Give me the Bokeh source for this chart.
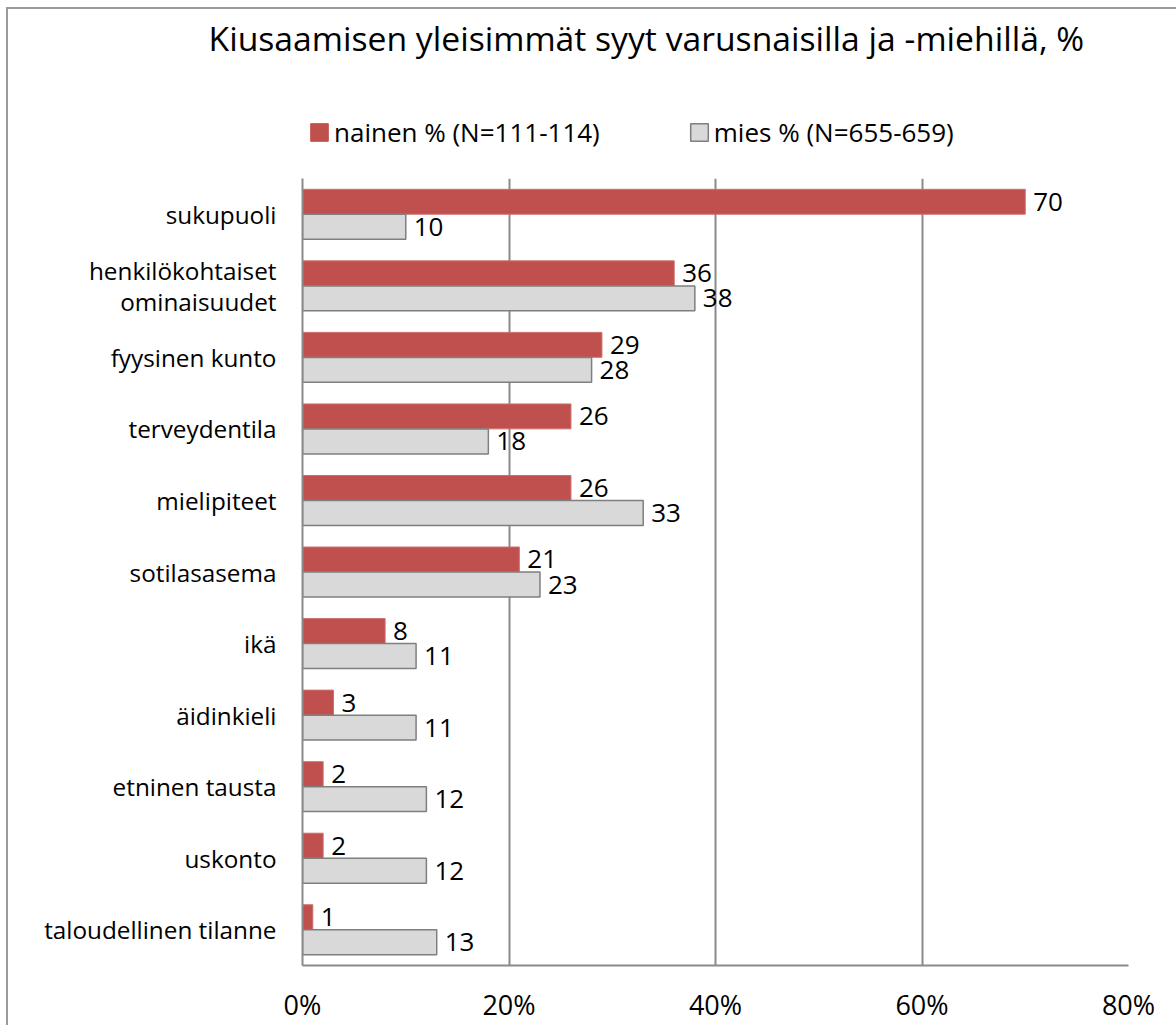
from bokeh.plotting import figure
from bokeh.layouts import column
from bokeh.models import (ColumnDataSource, FactorRange, Range1d, FixedTicker,
                          PrintfTickFormatter, Legend, LegendItem, Label)
from bokeh.transform import dodge
from bokeh.core.properties import value
from bokeh.embed import file_html
from bokeh.resources import INLINE

# ---- data (top to bottom as in the chart) ----
categories = ["sukupuoli", "henkilökohtaiset\nominaisuudet", "fyysinen kunto",
              "terveydentila", "mielipiteet", "sotilasasema", "ikä", "äidinkieli",
              "etninen tausta", "uskonto", "taloudellinen tilanne"]
nainen = [70, 36, 29, 26, 26, 21, 8, 3, 2, 2, 1]
mies = [10, 38, 28, 18, 33, 23, 11, 11, 12, 12, 13]
x_ticks = [0, 20, 40, 60, 80]
title_text = "Kiusaamisen yleisimmät syyt varusnaisilla ja -miehillä, %"
legend_labels = ["nainen % (N=111-114)", "mies % (N=655-659)"]

FONT = "Open Sans"
RED = "#C0504D"
GREY = "#D9D9D9"
GREY_LINE = "#7F7F7F"
LINE = "#8A8A8A"
FRAME = "#9a9a9a"

W = 1176
HEAD_H = 178
MAIN_H = 1025 - HEAD_H

src = ColumnDataSource(dict(
    cat=categories,
    nainen=nainen,
    mies=mies,
    nainen_lbl=[str(v) for v in nainen],
    mies_lbl=[str(v) for v in mies],
))

# ---------------- header: title + legend ----------------
head = figure(width=W, height=HEAD_H, title=None,
              x_range=Range1d(0, W), y_range=Range1d(HEAD_H, 0),
              output_backend="svg", toolbar_location=None,
              min_border=0, min_border_left=0, min_border_right=0,
              min_border_top=0, min_border_bottom=0)
head.frame_align = False
head.axis.visible = False
head.grid.visible = False
head.outline_line_color = None
head.border_fill_color = None
head.background_fill_color = None
head.styles = {
    "background": (f"linear-gradient({FRAME},{FRAME}) 6px 7px / 1170px 2px no-repeat, "
                   f"linear-gradient({FRAME},{FRAME}) 6px 7px / 2px {HEAD_H}px no-repeat, #ffffff"),
}

head.add_layout(Label(x=208, y=37, text=title_text,
                      text_font=FONT, text_font_size="33.7px", text_color="black",
                      text_align="left", text_baseline="middle"))

# legend proxies (hidden; only their styling is used by the legend)
h_n = head.hbar(y="nainen", right="nainen", left=0, height=1, source=src,
                fill_color=RED, line_color=RED, line_width=1)
h_m = head.hbar(y="mies", right="mies", left=0, height=1, source=src,
                fill_color=GREY, line_color=GREY_LINE, line_width=1.5)
h_n.visible = False
h_m.visible = False

legend = Legend(items=[LegendItem(label=legend_labels[0], renderers=[h_n]),
                       LegendItem(label=legend_labels[1], renderers=[h_m])],
                orientation="horizontal", location=(308, 28),
                glyph_width=22, glyph_height=22, label_standoff=4, spacing=88,
                label_text_font=FONT, label_text_font_size="26px",
                label_text_color="black", border_line_color=None,
                background_fill_alpha=0, padding=0, margin=0,
                inactive_fill_alpha=0)
head.add_layout(legend, "center")

# ---------------- main chart ----------------
p = figure(
    width=W, height=MAIN_H, title=None,
    y_range=FactorRange(*list(reversed(categories))),
    x_range=Range1d(0, 80),
    output_backend="svg", toolbar_location=None,
    min_border_left=302, min_border_right=48,
    min_border_top=0, min_border_bottom=57,
)
p.frame_align = False
p.border_fill_color = None
p.background_fill_color = "white"
p.styles = {
    "background": (f"linear-gradient({FRAME},{FRAME}) 6px 0px / 2px {MAIN_H}px no-repeat, #ffffff"),
}

r_n = p.hbar(y=dodge("cat", 0.175, range=p.y_range), right="nainen", left=0,
             height=0.348, source=src, fill_color=RED, line_color="#CB6F6C", line_width=1)
r_m = p.hbar(y=dodge("cat", -0.175, range=p.y_range), right="mies", left=0,
             height=0.348, source=src, fill_color=GREY, line_color=GREY_LINE, line_width=1.5)

p.text(x="nainen", y=dodge("cat", 0.175, range=p.y_range), text="nainen_lbl",
       source=src, x_offset=8, text_baseline="middle", text_align="left",
       text_font=value(FONT), text_font_size="26px", text_color="black")
p.text(x="mies", y=dodge("cat", -0.175, range=p.y_range), text="mies_lbl",
       source=src, x_offset=8, text_baseline="middle", text_align="left",
       text_font=value(FONT), text_font_size="26px", text_color="black")

p.xaxis.ticker = FixedTicker(ticks=x_ticks)
p.xaxis.formatter = PrintfTickFormatter(format="%d%%")
p.xaxis.major_label_text_font = FONT
p.xaxis.major_label_text_font_size = "27px"
p.xaxis.major_label_text_color = "black"
p.xaxis.major_tick_line_color = None
p.xaxis.minor_tick_line_color = None
p.xaxis.major_tick_out = 0
p.xaxis.major_label_standoff = 20
p.xaxis.axis_line_color = LINE
p.xaxis.axis_line_width = 2

p.yaxis.major_label_text_font = FONT
p.yaxis.major_label_text_font_size = "24.3px"
p.yaxis.major_label_text_color = "black"
p.yaxis.major_label_text_line_height = 0.95
p.yaxis.major_tick_line_color = None
p.yaxis.minor_tick_line_color = None
p.yaxis.major_tick_out = 0
p.yaxis.major_label_standoff = 26
p.yaxis.axis_line_color = LINE
p.yaxis.axis_line_width = 2

p.xgrid.grid_line_color = LINE
p.xgrid.grid_line_width = 2
p.ygrid.grid_line_color = None
p.outline_line_color = None
p.y_range.range_padding = 0

layout = column(head, p, spacing=0)
open("out.html", "w").write(file_html(layout, INLINE))
